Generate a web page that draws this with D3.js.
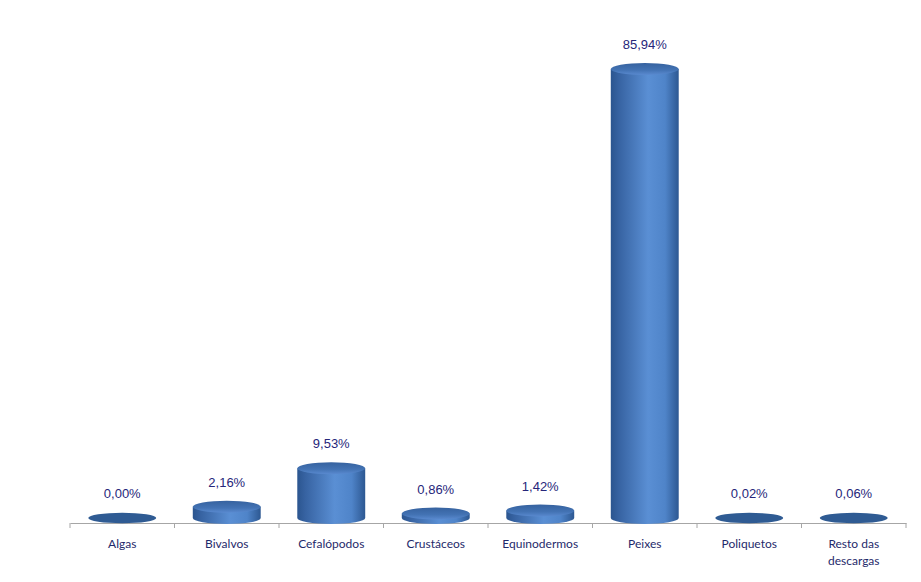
<!DOCTYPE html>
<html><head><meta charset="utf-8">
<script src="https://cdn.jsdelivr.net/npm/d3@7"></script>
<style>body{margin:0;background:#fff}svg{display:block}</style>
</head><body>
<script>
const categories = ["Algas","Bivalvos","Cefalópodos","Crustáceos","Equinodermos","Peixes","Poliquetos","Resto das descargas"];
const values = [0.00, 2.16, 9.53, 0.86, 1.42, 85.94, 0.02, 0.06];
const valueLabels = ["0,00%","2,16%","9,53%","0,86%","1,42%","85,94%","0,02%","0,06%"];

const W = 921, H = 582;
const svg = d3.select("body").append("svg").attr("width", W).attr("height", H);
const defs = svg.append("defs");
const g1 = defs.append("linearGradient").attr("id","body").attr("x1","0").attr("x2","1").attr("y1","0").attr("y2","0");
[[0,"#2b558f"],[0.12,"#3763a2"],[0.55,"#5a8fd4"],[0.8,"#4f84c9"],[1,"#2d5892"]].forEach(s=>g1.append("stop").attr("offset",s[0]).attr("stop-color",s[1]));
const g2 = defs.append("linearGradient").attr("id","top").attr("x1","0").attr("x2","0").attr("y1","0").attr("y2","1");
[[0,"#36629f"],[0.6,"#4373b4"],[1,"#5a8ad0"]].forEach(s=>g2.append("stop").attr("offset",s[0]).attr("stop-color",s[1]));

const x = d3.scaleBand().domain(categories).range([70, 906]).paddingInner(0).paddingOuter(0);
const y = d3.scaleLinear().domain([0, 90]).range([518, 47.75]);
const bw = x.bandwidth() * 0.65;
const rx = bw/2, ry = 6;

// axis
const axisY = 523;
const ax = svg.append("g").attr("transform",`translate(0,${axisY})`)
  .call(d3.axisBottom(x).tickSize(0).tickFormat(""));
ax.select(".domain").attr("stroke","#a6a6a6");
const edges = categories.map(c=>x(c)).concat([x.range()[1]]);
svg.selectAll("line.tk").data(edges).join("line").attr("class","tk")
  .attr("x1",d=>d).attr("x2",d=>d).attr("y1",axisY).attr("y2",axisY+5).attr("stroke","#a6a6a6");

const bars = svg.selectAll("g.bar").data(categories.map((c,i)=>({c,v:values[i],l:valueLabels[i]}))).join("g").attr("class","bar");
bars.each(function(d){
  const gg = d3.select(this);
  const cx = x(d.c) + x.bandwidth()/2;
  const yb = y(0), yt = y(d.v);
  const h = yb - yt;
  if (h < 1.5) {
    gg.append("ellipse").attr("cx",cx).attr("cy",yb).attr("rx",rx).attr("ry",ry-0.8).attr("fill","#2f5b93");
  } else {
    gg.append("path").attr("d",`M${cx-rx},${yt} L${cx-rx},${yb} A${rx},${ry} 0 0 0 ${cx+rx},${yb} L${cx+rx},${yt} Z`).attr("fill","url(#body)");
    gg.append("ellipse").attr("cx",cx).attr("cy",yt).attr("rx",rx).attr("ry",ry).attr("fill","url(#top)");
  }
  gg.append("text").attr("x",cx).attr("y",yt-20).attr("text-anchor","middle")
    .attr("font-family","Liberation Sans, Arial, sans-serif").attr("font-size",13).attr("fill","#26267a").text(d.l);
});

// category labels
svg.selectAll("text.cat").data(categories).join("text").attr("class","cat")
  .attr("x",d=>x(d)+x.bandwidth()/2).attr("y",548).attr("text-anchor","middle")
  .attr("font-family","Lato, Open Sans, sans-serif").attr("font-size",12).attr("fill","#1f2a6b")
  .each(function(d){
    const t = d3.select(this);
    if (d === "Resto das descargas") {
      t.append("tspan").attr("x",x(d)+x.bandwidth()/2).attr("dy",0).text("Resto das");
      t.append("tspan").attr("x",x(d)+x.bandwidth()/2).attr("dy",17).text("descargas");
    } else t.text(d);
  });
</script>
</body></html>
